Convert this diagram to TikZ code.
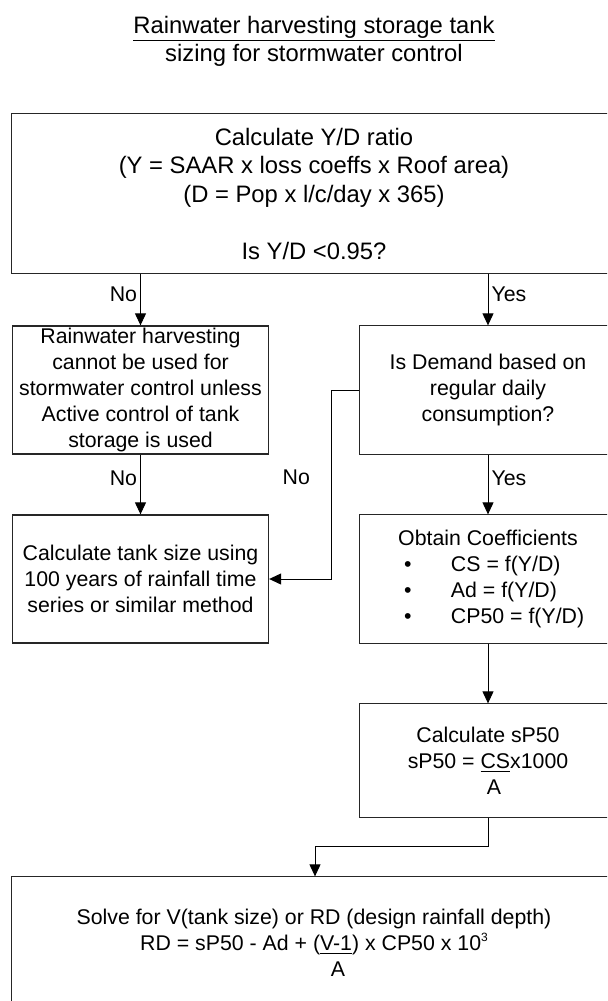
\documentclass[tikz,border=0pt]{standalone}
\usepackage{fontspec}
\setmainfont{Liberation Sans}
\usetikzlibrary{arrows.meta,positioning}

\begin{document}
\begin{tikzpicture}[x=0.5pt,y=-0.5pt,>={Triangle[length=6pt,width=5.5pt]},
  box/.style={draw=black!85,line width=0.65pt,align=center,inner sep=0pt,
    minimum width=128pt,minimum height=64pt,font=\fontsize{10.65}{12.9}\selectfont},
  openbox/.style={box,draw=none},
  bigbox/.style={openbox,minimum width=302pt},
  rim/.style={draw=black!85,line width=0.65pt},
  link/.style={->,line width=0.5pt},
  lbl/.style={font=\fontsize{10.65}{12.9}\selectfont,inner sep=1.5pt}]
  \useasboundingbox (0,0) rectangle (607,1001);
  \clip (0,0) rectangle (607,1001);
  \node[align=center,font=\fontsize{11.9}{14}\selectfont] (title) at (314,41)
    {\raisebox{0pt}[\height][2.5pt]{\underline{Rainwater harvesting storage tank}}\\sizing for stormwater control};
  \node[bigbox,minimum height=79.5pt,font=\fontsize{11.9}{14.25}\selectfont] (ratio) at (314,193.5)
    {Calculate Y/D ratio\\(Y = SAAR x loss coeffs x Roof area)\\(D = Pop x l/c/day x 365)\\[14.25pt]Is Y/D <0.95?};
  \node[box] (nouse) at (140.5,390)
    {Rainwater harvesting\\cannot be used for\\stormwater control unless\\Active control of tank\\storage is used};
  \node[openbox] (demand) at (488,390) {Is Demand based on\\regular daily\\consumption?};
  \node[box] (series) at (140.5,579)
    {Calculate tank size using\\100 years of rainfall time\\series or similar method};
  \node[openbox,align=left] (coeff) at (488,579)
    {\makebox[128pt]{Obtain Coefficients}\\
     \hspace*{22pt}\makebox[23.5pt][l]{\textbullet}CS = f(Y/D)\\
     \hspace*{22pt}\makebox[23.5pt][l]{\textbullet}Ad = f(Y/D)\\
     \hspace*{22pt}\makebox[23.5pt][l]{\textbullet}CP50 = f(Y/D)};
  \node[openbox,minimum height=56.5pt] (speak) at (488,760.5)
    {Calculate sP50\\sP50 = \underline{CS}x1000\\\hspace*{6pt}A};
  \node[bigbox,minimum height=66pt] (solve) at (314,943)
    {Solve for V(tank size) or RD (design rainfall depth)\\
     RD = sP50 - Ad + (\underline{V-1}) x CP50 x 10\raisebox{4.5pt}{\fontsize{6}{6}\selectfont 3}\\\hspace*{24pt}A};
  % right sides run off the page
  \foreach \n in {ratio,demand,coeff,speak,solve}
    \draw[rim] (\n.north east) -- (\n.north west) -- (\n.south west) -- (\n.south east);

  \draw[link] (ratio.south -| nouse.north) -- node[lbl,pos=0.4,left]{No} (nouse.north);
  \draw[link] (ratio.south -| demand.north) -- node[lbl,pos=0.4,right]{Yes} (demand.north);
  \draw[link] (nouse) -- node[lbl,pos=0.4,left]{No} (series);
  \draw[link] (demand) -- node[lbl,pos=0.4,right]{Yes} (coeff);
  \draw[link] (demand.west) -- ++(-28,0) |- node[lbl,pos=0.23,left=9pt]{No} (series.east);
  \draw[link] (coeff) -- (speak);
  \coordinate (bend) at (315,846);
  \draw[link] (speak.south) |- (bend) -- (bend |- solve.north);
\end{tikzpicture}
\end{document}
